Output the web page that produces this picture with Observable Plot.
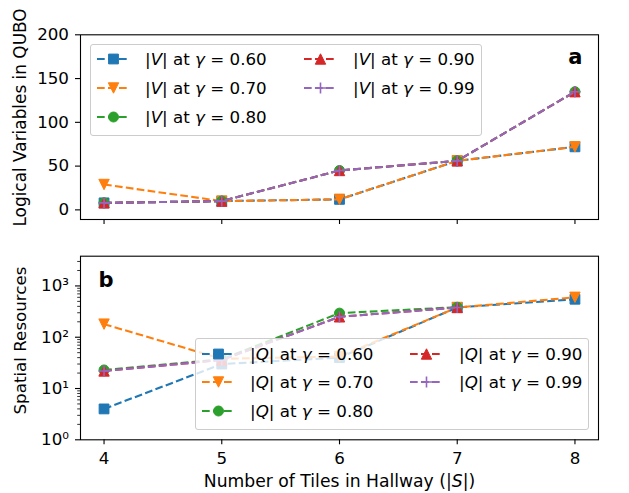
<!DOCTYPE html>
<html><head><meta charset="utf-8">
<script src="https://cdn.jsdelivr.net/npm/d3@7"></script>
<script src="https://cdn.jsdelivr.net/npm/@observablehq/plot@0.6"></script>
<style>
body{margin:0;background:#fff}
#c{position:relative;width:629px;height:493px;font-family:"DejaVu Sans";background:#fff;overflow:hidden}
#c svg.plot-panel{position:absolute;left:0}
#c svg text{font-family:"DejaVu Sans"}
.lg{position:absolute;background:rgba(255,255,255,0.8);border:1px solid #cccccc;border-radius:3px;box-sizing:border-box}
.lt{position:absolute;font-size:16.7px;white-space:nowrap;line-height:20px;transform:translateY(-50%)}
.lh{position:absolute;overflow:visible}
</style>
</head><body><div id="c"></div>
<script>
// ---- data ----
const tiles = [4, 5, 6, 7, 8];
const gammaLabels = ["0.60", "0.70", "0.80", "0.90", "0.99"];
// Logical variables |V| (panel a)
const V_060 = [8, 10, 12, 56, 72];
const V_070 = [29, 10, 12, 56, 72];
const V_080 = [8, 10, 45, 56, 135];
const V_090 = [8, 10, 45, 56, 135];
const V_099 = [8, 10, 45, 56, 135];
// Spatial resources |Q| (panel b)
const Q_tiles_full = [4, 5, 6, 7, 8];
const Q_tiles_short = [4, 5, 6, 7];
const Q_060 = [4, 30, 40, 380, 550];
const Q_070 = [180, 38, 42, 380, 600];
const Q_080 = [23, 37, 295, 385];
const Q_090 = [22, 36, 250, 380];
const Q_099 = [22, 36, 250, 380];
const yTicksTop = [0, 50, 100, 150, 200];
const yTicksLog = [1, 10, 100, 1000];

// ---- styles ----
const colors = ["#1f77b4", "#ff7f0e", "#2ca02c", "#d62728", "#9467bd"];
const markerKinds = ["square", "tridown", "circle", "triup", "plus"];

const symbols = {
  square: {draw(c){ c.rect(-4.9, -4.9, 9.8, 9.8); }},
  circle: {draw(c){ c.moveTo(5, 0); c.arc(0, 0, 5, 0, 2 * Math.PI); c.closePath(); }},
  tridown: {draw(c){ c.moveTo(0, 5.2); c.lineTo(-5.2, -5.2); c.lineTo(5.2, -5.2); c.closePath(); }},
  triup: {draw(c){ c.moveTo(0, -5.2); c.lineTo(-5.2, 5.2); c.lineTo(5.2, 5.2); c.closePath(); }},
  plus: {draw(c){ c.moveTo(-5.6, 0); c.lineTo(5.6, 0); c.moveTo(0, -5.6); c.lineTo(0, 5.6); }}
};

const topSeries = [V_060, V_070, V_080, V_090, V_099].map((vals, i) =>
  tiles.map((t, j) => ({x: t, y: vals[j], s: i})));
const qVals = [Q_060, Q_070, Q_080, Q_090, Q_099];
const botSeries = qVals.map((vals, i) => {
  const xs = vals.length === 5 ? Q_tiles_full : Q_tiles_short;
  return xs.map((t, j) => ({x: t, y: vals[j], s: i}));
});

const dash = "7.7,3.3";
function seriesMarks(series) {
  const m = [];
  series.forEach((data, i) => {
    m.push(Plot.line(data, {x: "x", y: "y", stroke: colors[i], strokeWidth: 2.08,
      strokeDasharray: dash, strokeLinecap: "butt", strokeLinejoin: "round"}));
    const isPlus = markerKinds[i] === "plus";
    m.push(Plot.dot(data, {x: "x", y: "y", r: 5, symbol: symbols[markerKinds[i]],
      fill: isPlus ? "none" : colors[i], stroke: colors[i], strokeWidth: isPlus ? 1.6 : 1}));
  });
  return m;
}

const baseStyle = {fontFamily: "DejaVu Sans", fontSize: "16.7px", background: "transparent", overflow: "visible", color: "black"};
const xDomain = [3.8, 8.2];

const topPlot = Plot.plot({
  width: 629, height: 237,
  marginTop: 34.3, marginBottom: 18, marginLeft: 80, marginRight: 31,
  style: baseStyle,
  x: {domain: xDomain},
  y: {domain: [-11, 200]},
  marks: [
    ...seriesMarks(topSeries),
    Plot.axisX({ticks: tiles, tickSize: 5, tickFormat: () => "", label: null, strokeWidth: 1.1}),
    Plot.axisY({ticks: yTicksTop, tickSize: 5, tickPadding: 6.5, label: null, strokeWidth: 1.1, fontSize: 16.7}),
    Plot.frame({stroke: "black", strokeWidth: 1.1}),
    Plot.text(["Logical Variables in QUBO"], {frameAnchor: "left", textAnchor: "middle", lineAnchor: "middle", rotate: -90, dx: -60, dy: -9.7, fontSize: 16.9}),
    Plot.text(["a"], {frameAnchor: "top-right", textAnchor: "end", lineAnchor: "middle", dx: -16, dy: 22, fontSize: 21, fontWeight: "bold"})
  ]
});

const sup = {0: "\u2070", 1: "\u00b9", 2: "\u00b2", 3: "\u00b3"};
const minorTicks = [];
for (let k = 0; k < 4; k++) for (let m = 2; m <= 9; m++) { const v = m * Math.pow(10, k); if (v < 3800) minorTicks.push(v); }

const botPlot = Plot.plot({
  width: 629, height: 256,
  marginTop: 18.7, marginBottom: 53.7, marginLeft: 80, marginRight: 31,
  style: baseStyle,
  x: {domain: xDomain},
  y: {type: "log", domain: [1, 3800]},
  marks: [
    ...seriesMarks(botSeries),
    Plot.axisX({ticks: tiles, tickSize: 5, tickPadding: 7, label: null, strokeWidth: 1.1, fontSize: 16.7,
      tickFormat: d => String(d)}),
    Plot.axisY({ticks: yTicksLog, tickSize: 5, tickPadding: 6.5, label: null, strokeWidth: 1.1, fontSize: 16.7,
      tickFormat: d => "10" + sup[Math.round(Math.log10(d))]}),
    Plot.axisY(minorTicks, {tickSize: 2.8, tickFormat: () => "", label: null, strokeWidth: 0.8}),
    Plot.frame({stroke: "black", strokeWidth: 1.1}),
    Plot.text(["Spatial Resources"], {frameAnchor: "left", textAnchor: "middle", lineAnchor: "middle", rotate: -90, dx: -60, dy: -7.5, fontSize: 16.7}),
    Plot.text(["Number of Tiles in Hallway (|S|)"], {frameAnchor: "bottom", textAnchor: "middle", lineAnchor: "middle", dy: 42, fontSize: 17.2}),
    Plot.text(["b"], {frameAnchor: "top-left", textAnchor: "start", lineAnchor: "middle", dx: 18, dy: 23.6, fontSize: 21, fontWeight: "bold"})
  ]
});

const c = document.getElementById("c");
topPlot.classList.add("plot-panel"); topPlot.style.top = "0px";
botPlot.classList.add("plot-panel"); botPlot.style.top = "237px";
c.appendChild(topPlot);
c.appendChild(botPlot);
// italicise S in the x label
botPlot.querySelectorAll("text").forEach(t => {
  if (t.textContent === "Number of Tiles in Hallway (|S|)") {
    t.textContent = "";
    const parts = [["Number of Tiles in Hallway (|", false], ["S", true], ["|)", false]];
    parts.forEach(([s, it]) => {
      const ts = document.createElementNS("http://www.w3.org/2000/svg", "tspan");
      ts.textContent = s; if (it) ts.setAttribute("font-style", "italic");
      t.appendChild(ts);
    });
  }
});

// ---- legends ----
function legend(letter, box, handleX, textX, rowY) {
  const b = document.createElement("div");
  b.className = "lg";
  Object.assign(b.style, {left: box[0] + "px", top: box[1] + "px", width: box[2] + "px", height: box[3] + "px"});
  c.appendChild(b);
  gammaLabels.forEach((g, i) => {
    const col = i < 3 ? 0 : 1, row = i < 3 ? i : i - 3;
    const y = rowY[row];
    const svgNS = "http://www.w3.org/2000/svg";
    const s = document.createElementNS(svgNS, "svg");
    s.setAttribute("class", "lh");
    s.setAttribute("width", 33); s.setAttribute("height", 20);
    s.style.left = handleX[col] + "px"; s.style.top = (y - 10) + "px";
    const ln = document.createElementNS(svgNS, "line");
    ln.setAttribute("x1", 0); ln.setAttribute("x2", 33); ln.setAttribute("y1", 10); ln.setAttribute("y2", 10);
    ln.setAttribute("stroke", colors[i]); ln.setAttribute("stroke-width", 2.08); ln.setAttribute("stroke-dasharray", dash);
    s.appendChild(ln);
    const p = document.createElementNS(svgNS, "path");
    p.setAttribute("d", d3.symbol(symbols[markerKinds[i]], 1)());
    p.setAttribute("transform", "translate(16.5,10)");
    const isPlus = markerKinds[i] === "plus";
    p.setAttribute("fill", isPlus ? "none" : colors[i]);
    p.setAttribute("stroke", colors[i]); p.setAttribute("stroke-width", isPlus ? 1.6 : 1);
    s.appendChild(p);
    c.appendChild(s);
    const t = document.createElement("div");
    t.className = "lt";
    t.style.left = textX[col] + "px"; t.style.top = y + "px";
    t.innerHTML = `|<i>${letter}</i>| at <i>\u03b3</i> = ${g}`;
    c.appendChild(t);
  });
}
legend("V", [90, 44, 392, 92], [96.8, 303.5], [145, 353], [59.3, 87.7, 116.7]);
legend("Q", [195, 338, 394, 92], [201.8, 410.2], [250, 459], [354, 382, 411]);
</script>
</body></html>
